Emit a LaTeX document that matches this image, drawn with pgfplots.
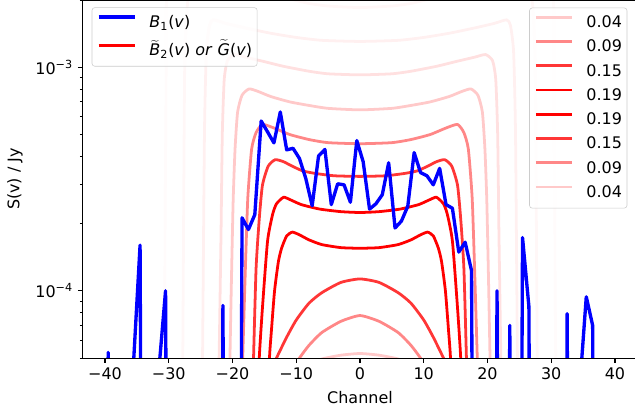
\documentclass[border=0pt]{standalone}
\usepackage{fontspec}
\setmainfont{DejaVu Sans}
\usepackage{pgfplots}
\pgfplotsset{compat=1.18}
\newcommand{\wt}[1]{\ensuremath{\widetilde{\mbox{\itshape #1}}}}
\begin{document}
\begin{tikzpicture}
% ---------- red model curves (with right legend) ----------
\begin{axis}[at={(0,0)}, anchor=south west, scale only axis,
  width=399.3pt, height=257.8pt,
  ymode=log, xmin=-43.5, xmax=43.5, ymin=5e-5, ymax=2e-3,
  hide axis,
  legend image code/.code={\draw[#1] (0pt,4.2pt) -- (26pt,4.2pt);},
  legend cell align=left,
  legend style={at={(axis description cs:0,1)}, anchor=north east,
    xshift=392.1pt, yshift=-5.5pt,
    draw=black!20, rounded corners=2pt, fill=white, fill opacity=0.8, text opacity=1,
    font=\fontsize{11.5}{13.5}\selectfont, inner xsep=3.6pt, inner ysep=5.6pt,
    row sep=6.65pt, column sep=9.4pt,
    nodes={inner sep=0pt, text height=8.6pt, text depth=2.2pt}},
  every axis plot/.append style={line width=2pt, smooth, tension=0.35},
]
\addplot[red!1.5!white, forget plot] coordinates {(-31,1e-5)(-30.7,5e-5)(-30.4,1e-3)(-30,3e-3)(-25,3.5e-3)(0,2.66e-3)(25,3.5e-3)(30,3e-3)(30.4,1e-3)(30.7,5e-5)(31,1e-5)};
\addplot[red!3!white, forget plot] coordinates {(-28,2e-5)(-27.8,5e-5)(-27.5,1.0e-3)(-27,2.0e-3)(-26,2.4e-3)(-22,2.3e-3)(-16,2.15e-3)(-11,2.02e-3)(-8,1.93e-3)(-5,1.88e-3)(0,1.85e-3)(5,1.88e-3)(8,1.93e-3)(11,2.02e-3)(16,2.15e-3)(22,2.3e-3)(26,2.4e-3)(27,2.0e-3)(27.5,1.0e-3)(27.8,5e-5)(28,2e-5)};
\addplot[red!6!white, forget plot] coordinates {(-24.9,2.5e-5)(-24.7,5e-5)(-24.4,5e-4)(-24.1,1.17e-3)(-23.6,1.54e-3)(-23,1.63e-3)(-21,1.57e-3)(-18,1.5e-3)(-14,1.42e-3)(-10,1.36e-3)(-6,1.32e-3)(0,1.305e-3)(6,1.32e-3)(10,1.36e-3)(14,1.42e-3)(18,1.5e-3)(21,1.57e-3)(23,1.63e-3)(23.6,1.54e-3)(24.1,1.17e-3)(24.4,5e-4)(24.7,5e-5)(24.9,2.5e-5)};
\addplot[red!12!white, forget plot] coordinates {(-22.3,2.5e-5)(-22.1,5e-5)(-21.8,1.8e-4)(-21.6,5.0e-4)(-21.3,8.8e-4)(-20.8,1.07e-3)(-19.7,1.14e-3)(-18,1.11e-3)(-15,1.06e-3)(-12,1.01e-3)(-8,9.6e-4)(-5,9.35e-4)(0,9.25e-4)(5,9.35e-4)(8,9.6e-4)(12,1.01e-3)(15,1.06e-3)(18,1.11e-3)(19.7,1.14e-3)(20.8,1.07e-3)(21.3,8.8e-4)(21.6,5.0e-4)(21.8,1.8e-4)(22.1,5e-5)(22.3,2.5e-5)};
\addplot[red!21!white] coordinates {(-20.6,2.5e-5)(-20.4,5e-5)(-20.2,1.0e-4)(-19.9,2.5e-4)(-19.6,4.3e-4)(-19.2,6.3e-4)(-18.5,7.5e-4)(-17.4,8.0e-4)(-16,7.8e-4)(-14,7.4e-4)(-11,7.0e-4)(-8,6.75e-4)(-5,6.55e-4)(0,6.45e-4)(5,6.55e-4)(8,6.75e-4)(11,7.0e-4)(14,7.4e-4)(16,7.8e-4)(17.4,8.0e-4)(18.5,7.5e-4)(19.2,6.3e-4)(19.6,4.3e-4)(19.9,2.5e-4)(20.2,1.0e-4)(20.4,5e-5)(20.6,2.5e-5)};
\addlegendentry{0.04}
\addplot[red!47!white] coordinates {(-18.7,2.5e-5)(-18.4,5e-5)(-18,1.2e-4)(-17.6,2.6e-4)(-17,4.3e-4)(-16.3,5.1e-4)(-15.3,5.55e-4)(-13.5,5.35e-4)(-11,5.0e-4)(-8,4.75e-4)(-5,4.6e-4)(0,4.55e-4)(5,4.6e-4)(8,4.75e-4)(11,5.0e-4)(13.5,5.35e-4)(15.3,5.55e-4)(16.3,5.1e-4)(17,4.3e-4)(17.6,2.6e-4)(18,1.2e-4)(18.4,5e-5)(18.7,2.5e-5)};
\addlegendentry{0.09}
\addplot[red!79!white] coordinates {(-17,2.5e-5)(-16.7,5e-5)(-16.3,1.26e-4)(-15.8,2.1e-4)(-15.3,2.97e-4)(-14.4,3.61e-4)(-13.3,3.86e-4)(-12,3.78e-4)(-10.7,3.62e-4)(-9,3.44e-4)(-7,3.35e-4)(-4,3.27e-4)(0,3.25e-4)(4,3.27e-4)(7,3.35e-4)(9,3.44e-4)(10.7,3.62e-4)(12,3.78e-4)(13.3,3.86e-4)(14.4,3.61e-4)(15.3,2.97e-4)(15.8,2.1e-4)(16.3,1.26e-4)(16.7,5e-5)(17,2.5e-5)};
\addlegendentry{0.15}
\addplot[red] coordinates {(-16.2,2.5e-5)(-15.8,5e-5)(-15.3,8.4e-5)(-14.5,1.67e-4)(-13.7,2.2e-4)(-13.1,2.45e-4)(-12,2.62e-4)(-11,2.56e-4)(-9.2,2.43e-4)(-6.3,2.32e-4)(-3,2.26e-4)(0,2.24e-4)(3,2.26e-4)(6.3,2.32e-4)(9.2,2.43e-4)(11,2.56e-4)(12,2.62e-4)(13.1,2.45e-4)(13.7,2.2e-4)(14.5,1.67e-4)(15.3,8.4e-5)(15.8,5e-5)(16.2,2.5e-5)};
\addlegendentry{0.19}
\addplot[red] coordinates {(-14.6,2.5e-5)(-14.2,5e-5)(-13.9,6.6e-5)(-13.4,1.0e-4)(-12.8,1.35e-4)(-12.3,1.55e-4)(-11.5,1.76e-4)(-10.6,1.83e-4)(-9.5,1.78e-4)(-8,1.69e-4)(-6,1.61e-4)(-3,1.56e-4)(0,1.55e-4)(3,1.56e-4)(6,1.61e-4)(8,1.69e-4)(9.5,1.78e-4)(10.6,1.83e-4)(11.5,1.76e-4)(12.3,1.55e-4)(12.8,1.35e-4)(13.4,1.0e-4)(13.9,6.6e-5)(14.2,5e-5)(14.6,2.5e-5)};
\addlegendentry{0.19}
\addplot[red!79!white] coordinates {(-15,3.8e-5)(-13.1,5.0e-5)(-11.5,6.2e-5)(-10,7.4e-5)(-8,8.8e-5)(-6,9.8e-5)(-3,1.09e-4)(0,1.13e-4)(3,1.09e-4)(6,9.8e-5)(8,8.8e-5)(10,7.4e-5)(11.5,6.2e-5)(13.1,5.0e-5)(15,3.8e-5)};
\addlegendentry{0.15}
\addplot[red!47!white] coordinates {(-11,4.3e-5)(-9.5,5.0e-5)(-8,5.7e-5)(-6,6.5e-5)(-3,7.3e-5)(0,7.75e-5)(3,7.3e-5)(6,6.5e-5)(8,5.7e-5)(9.5,5.0e-5)(11,4.3e-5)};
\addlegendentry{0.09}
\addplot[red!21!white] coordinates {(-9,4.6e-5)(-6,4.95e-5)(-3,5.15e-5)(0,5.24e-5)(3,5.15e-5)(6,4.95e-5)(9,4.6e-5)};
\addlegendentry{0.04}
\end{axis}
% ---------- measured spectrum + visible axes (with left legend) ----------
\begin{axis}[at={(0,0)}, anchor=south west, scale only axis,
  width=399.3pt, height=257.8pt,
  ymode=log, xmin=-43.5, xmax=43.5, ymin=5e-5, ymax=2e-3,
  axis on top,
  legend image code/.code={\draw[#1] (0pt,4.2pt) -- (26pt,4.2pt);},
  axis line style={line width=0.8pt},
  tick align=outside, major tick length=3.5pt, minor tick length=2pt,
  every tick/.style={black, line width=0.8pt},
  every minor tick/.style={black, line width=0.6pt},
  xtick={-40,-30,...,40},
  xticklabels={−40,−30,−20,−10,0,10,20,30,40},
  ytick={1e-4,1e-3},
  yticklabels={10\textsuperscript{−4},10\textsuperscript{−3}},
  minor ytick={5e-5,6e-5,7e-5,8e-5,9e-5,2e-4,3e-4,4e-4,5e-4,6e-4,7e-4,8e-4,9e-4,2e-3},
  tick label style={font=\fontsize{11.5}{13}\selectfont},
  xlabel={Channel}, ylabel={S(v) / Jy},
  label style={font=\fontsize{11.5}{13}\selectfont},
  xlabel style={at={(axis description cs:0.5,0)}, anchor=base, yshift=-33pt},
  ylabel style={at={([xshift=-48.7pt]axis description cs:0,0.5)}, anchor=center},
  legend cell align=left,
  legend style={at={(axis description cs:0,1)}, anchor=north west,
    xshift=6.5pt, yshift=-5.3pt,
    draw=black!20, rounded corners=2pt, fill=white, fill opacity=0.8, text opacity=1,
    font=\fontsize{11.5}{13.5}\selectfont, inner xsep=3.6pt, inner ysep=4.5pt,
    row sep=7.6pt, column sep=9.4pt,
    nodes={inner sep=0pt, text height=9.8pt, text depth=3pt}},
]
\addplot[blue, line width=2.4pt, line join=round] coordinates {
(-40.5,1e-10)(-39.5,5.3e-5)(-38.5,1e-10)(-37.5,1e-10)(-36.5,1e-10)(-35.5,4.9e-5)(-34.5,1.6e-4)(-33.5,1e-10)(-32.5,1e-10)(-31.5,4.6e-5)(-30.5,1.0e-4)(-29.5,1e-10)(-28.5,1e-10)(-27.5,1e-10)(-26.5,1e-10)(-25.5,1e-10)(-24.5,1e-10)(-23.5,1e-10)(-22.5,1e-10)(-21.5,8.6e-5)(-20.5,1e-10)(-19.5,1e-10)
(-18.5,2.12e-4)(-17.5,1.88e-4)(-16.5,2.19e-4)(-15.5,5.75e-4)(-14.5,5.14e-4)(-13.5,4.59e-4)(-12.5,6.31e-4)(-11.5,4.27e-4)(-10.5,4.34e-4)(-9.5,3.91e-4)(-8.5,3.18e-4)(-7.5,2.4e-4)(-6.5,4.01e-4)(-5.5,4.29e-4)(-4.5,2.43e-4)(-3.5,3.01e-4)(-2.5,2.98e-4)(-1.5,2.49e-4)(-0.5,4.7e-4)
(0.5,3.78e-4)(1.5,2.32e-4)(2.5,2.45e-4)(3.5,2.69e-4)(4.5,3.74e-4)(5.5,1.91e-4)(6.5,2.05e-4)(7.5,2.39e-4)(8.5,4.15e-4)(9.5,3.38e-4)(10.5,3.27e-4)(11.5,2.98e-4)(12.5,3.53e-4)(13.5,2.43e-4)(14.5,2.34e-4)(15.5,1.49e-4)(16.5,1.65e-4)(17.5,1.23e-4)
(18.5,1e-10)(19.5,1e-10)(20.5,1e-10)(21.5,1.0e-4)(22.5,1e-10)(23.5,7.0e-5)(24.5,1e-10)(25.5,1.73e-4)(26.5,8.5e-5)(27.5,1e-10)(28.5,1e-10)(29.5,1e-10)(30.5,1e-10)(31.5,1e-10)(32.5,7.9e-5)(33.5,1e-10)(34.5,3.8e-5)(35.5,9.4e-5)(36.5,7.0e-5)(37.5,1e-10)(38.5,1e-10)(39.5,1e-10)};
\addlegendentry{\textit{B}\textsubscript{1}(\textit{v})}
\addlegendimage{red, line width=2pt}
\addlegendentry{\wt{B}\textsubscript{2}(\textit{v}) \textit{or} \wt{G}(\textit{v})}
\end{axis}
\pgfresetboundingbox
\useasboundingbox (-59.54pt,-41.04pt) rectangle (397.66pt,257.8pt);
\end{tikzpicture}
\end{document}
